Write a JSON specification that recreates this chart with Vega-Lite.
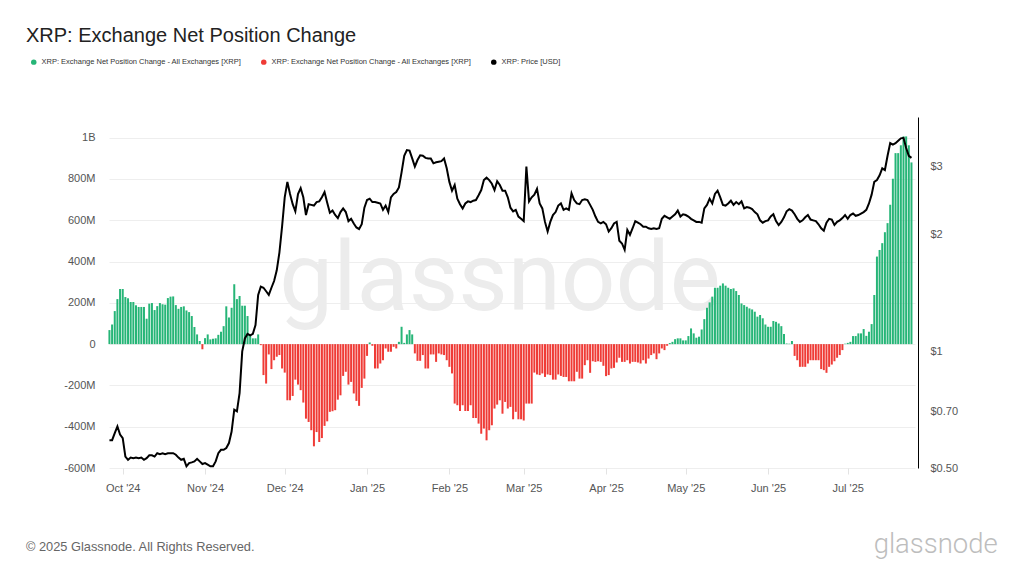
{
"$schema": "https://vega.github.io/schema/vega-lite/v6.json",
"width": 806, "height": 351,
"autosize": {"type": "none"},
"padding": {"left": 109, "top": 117, "right": 109, "bottom": 108},
"background": "white",
"config": {"view": {"stroke": null}, "font": "Liberation Sans", "axis": {"labelFont": "Liberation Sans"}, "legend": {"labelFont": "Liberation Sans"}},
"title": {"text": "XRP: Exchange Net Position Change", "anchor": "start", "frame": "group", "dx": -83, "offset": -4, "baseline": "alphabetic", "fontSize": 20, "fontWeight": "normal", "color": "#222222", "font": "Liberation Sans"},
"datasets": {"d": [
{"date":"2024-09-26","net":68e6,"price":0.59},
{"date":"2024-09-27","net":95e6,"price":0.59},
{"date":"2024-09-28","net":160e6,"price":0.615},
{"date":"2024-09-29","net":218e6,"price":0.64},
{"date":"2024-09-30","net":267e6,"price":0.61},
{"date":"2024-10-01","net":267e6,"price":0.597},
{"date":"2024-10-02","net":228e6,"price":0.535},
{"date":"2024-10-03","net":222e6,"price":0.525},
{"date":"2024-10-04","net":204e6,"price":0.532},
{"date":"2024-10-05","net":204e6,"price":0.53},
{"date":"2024-10-06","net":188e6,"price":0.532},
{"date":"2024-10-07","net":180e6,"price":0.53},
{"date":"2024-10-08","net":180e6,"price":0.532},
{"date":"2024-10-09","net":180e6,"price":0.525},
{"date":"2024-10-10","net":123e6,"price":0.53},
{"date":"2024-10-11","net":196e6,"price":0.539},
{"date":"2024-10-12","net":199e6,"price":0.539},
{"date":"2024-10-13","net":165e6,"price":0.535},
{"date":"2024-10-14","net":184e6,"price":0.546},
{"date":"2024-10-15","net":199e6,"price":0.543},
{"date":"2024-10-16","net":193e6,"price":0.546},
{"date":"2024-10-17","net":191e6,"price":0.543},
{"date":"2024-10-18","net":223e6,"price":0.546},
{"date":"2024-10-19","net":230e6,"price":0.546},
{"date":"2024-10-20","net":231e6,"price":0.546},
{"date":"2024-10-21","net":189e6,"price":0.541},
{"date":"2024-10-22","net":171e6,"price":0.532},
{"date":"2024-10-23","net":180e6,"price":0.525},
{"date":"2024-10-24","net":183e6,"price":0.528},
{"date":"2024-10-25","net":163e6,"price":0.505},
{"date":"2024-10-26","net":155e6,"price":0.515},
{"date":"2024-10-27","net":136e6,"price":0.517},
{"date":"2024-10-28","net":83e6,"price":0.52},
{"date":"2024-10-29","net":47e6,"price":0.528},
{"date":"2024-10-30","net":15e6,"price":0.52},
{"date":"2024-10-31","net":-25e6,"price":0.512},
{"date":"2024-11-01","net":29e6,"price":0.515},
{"date":"2024-11-02","net":47e6,"price":0.51},
{"date":"2024-11-03","net":23e6,"price":0.505},
{"date":"2024-11-04","net":26e6,"price":0.505},
{"date":"2024-11-05","net":28e6,"price":0.52},
{"date":"2024-11-06","net":45e6,"price":0.546},
{"date":"2024-11-07","net":60e6,"price":0.557},
{"date":"2024-11-08","net":87e6,"price":0.557},
{"date":"2024-11-09","net":183e6,"price":0.563},
{"date":"2024-11-10","net":129e6,"price":0.58},
{"date":"2024-11-11","net":176e6,"price":0.621},
{"date":"2024-11-12","net":290e6,"price":0.707},
{"date":"2024-11-13","net":218e6,"price":0.70},
{"date":"2024-11-14","net":233e6,"price":0.78},
{"date":"2024-11-15","net":186e6,"price":1.0},
{"date":"2024-11-16","net":186e6,"price":1.08},
{"date":"2024-11-17","net":136e6,"price":1.11},
{"date":"2024-11-18","net":45e6,"price":1.10},
{"date":"2024-11-19","net":28e6,"price":1.11},
{"date":"2024-11-20","net":28e6,"price":1.17},
{"date":"2024-11-21","net":47e6,"price":1.40},
{"date":"2024-11-22","net":-5e6,"price":1.47},
{"date":"2024-11-23","net":-150e6,"price":1.46},
{"date":"2024-11-24","net":-191e6,"price":1.43},
{"date":"2024-11-25","net":-50e6,"price":1.40},
{"date":"2024-11-26","net":-121e6,"price":1.46},
{"date":"2024-11-27","net":-78e6,"price":1.52},
{"date":"2024-11-28","net":-61e6,"price":1.62},
{"date":"2024-11-29","net":-53e6,"price":1.80},
{"date":"2024-11-30","net":-118e6,"price":2.1},
{"date":"2024-12-01","net":-138e6,"price":2.5},
{"date":"2024-12-02","net":-272e6,"price":2.74},
{"date":"2024-12-03","net":-272e6,"price":2.55},
{"date":"2024-12-04","net":-251e6,"price":2.40},
{"date":"2024-12-05","net":-172e6,"price":2.30},
{"date":"2024-12-06","net":-196e6,"price":2.55},
{"date":"2024-12-07","net":-223e6,"price":2.64},
{"date":"2024-12-08","net":-283e6,"price":2.5},
{"date":"2024-12-09","net":-361e6,"price":2.25},
{"date":"2024-12-10","net":-377e6,"price":2.40},
{"date":"2024-12-11","net":-417e6,"price":2.39},
{"date":"2024-12-12","net":-495e6,"price":2.38},
{"date":"2024-12-13","net":-426e6,"price":2.43},
{"date":"2024-12-14","net":-474e6,"price":2.44},
{"date":"2024-12-15","net":-455e6,"price":2.5},
{"date":"2024-12-16","net":-396e6,"price":2.58},
{"date":"2024-12-17","net":-374e6,"price":2.42},
{"date":"2024-12-18","net":-328e6,"price":2.28},
{"date":"2024-12-19","net":-325e6,"price":2.31},
{"date":"2024-12-20","net":-320e6,"price":2.25},
{"date":"2024-12-21","net":-269e6,"price":2.21},
{"date":"2024-12-22","net":-248e6,"price":2.29},
{"date":"2024-12-23","net":-154e6,"price":2.34},
{"date":"2024-12-24","net":-134e6,"price":2.29},
{"date":"2024-12-25","net":-196e6,"price":2.17},
{"date":"2024-12-26","net":-183e6,"price":2.2},
{"date":"2024-12-27","net":-239e6,"price":2.14},
{"date":"2024-12-28","net":-275e6,"price":2.09},
{"date":"2024-12-29","net":-299e6,"price":2.07},
{"date":"2024-12-30","net":-212e6,"price":2.13},
{"date":"2024-12-31","net":-167e6,"price":2.35},
{"date":"2025-01-01","net":-57e6,"price":2.46},
{"date":"2025-01-02","net":8e6,"price":2.48},
{"date":"2025-01-03","net":-8e6,"price":2.43},
{"date":"2025-01-04","net":-118e6,"price":2.43},
{"date":"2025-01-05","net":-118e6,"price":2.42},
{"date":"2025-01-06","net":-94e6,"price":2.41},
{"date":"2025-01-07","net":-78e6,"price":2.32},
{"date":"2025-01-08","net":-21e6,"price":2.38},
{"date":"2025-01-09","net":-37e6,"price":2.29},
{"date":"2025-01-10","net":-37e6,"price":2.5},
{"date":"2025-01-11","net":-13e6,"price":2.55},
{"date":"2025-01-12","net":-21e6,"price":2.58},
{"date":"2025-01-13","net":11e6,"price":2.65},
{"date":"2025-01-14","net":84e6,"price":2.9},
{"date":"2025-01-15","net":6e6,"price":3.2},
{"date":"2025-01-16","net":47e6,"price":3.31},
{"date":"2025-01-17","net":68e6,"price":3.30},
{"date":"2025-01-18","net":47e6,"price":3.15},
{"date":"2025-01-19","net":-45e6,"price":3.0},
{"date":"2025-01-20","net":-81e6,"price":3.12},
{"date":"2025-01-21","net":-81e6,"price":3.21},
{"date":"2025-01-22","net":-53e6,"price":3.2},
{"date":"2025-01-23","net":-118e6,"price":3.16},
{"date":"2025-01-24","net":-118e6,"price":3.15},
{"date":"2025-01-25","net":-50e6,"price":3.15},
{"date":"2025-01-26","net":-50e6,"price":3.06},
{"date":"2025-01-27","net":-86e6,"price":3.08},
{"date":"2025-01-28","net":-45e6,"price":3.09},
{"date":"2025-01-29","net":-50e6,"price":3.1},
{"date":"2025-01-30","net":-53e6,"price":3.15},
{"date":"2025-01-31","net":-78e6,"price":2.97},
{"date":"2025-02-01","net":-110e6,"price":2.74},
{"date":"2025-02-02","net":-142e6,"price":2.6},
{"date":"2025-02-03","net":-288e6,"price":2.69},
{"date":"2025-02-04","net":-296e6,"price":2.48},
{"date":"2025-02-05","net":-324e6,"price":2.4},
{"date":"2025-02-06","net":-296e6,"price":2.34},
{"date":"2025-02-07","net":-324e6,"price":2.41},
{"date":"2025-02-08","net":-324e6,"price":2.44},
{"date":"2025-02-09","net":-296e6,"price":2.43},
{"date":"2025-02-10","net":-358e6,"price":2.45},
{"date":"2025-02-11","net":-358e6,"price":2.46},
{"date":"2025-02-12","net":-385e6,"price":2.53},
{"date":"2025-02-13","net":-434e6,"price":2.61},
{"date":"2025-02-14","net":-409e6,"price":2.77},
{"date":"2025-02-15","net":-466e6,"price":2.81},
{"date":"2025-02-16","net":-417e6,"price":2.77},
{"date":"2025-02-17","net":-393e6,"price":2.71},
{"date":"2025-02-18","net":-312e6,"price":2.61},
{"date":"2025-02-19","net":-293e6,"price":2.75},
{"date":"2025-02-20","net":-272e6,"price":2.69},
{"date":"2025-02-21","net":-337e6,"price":2.6},
{"date":"2025-02-22","net":-280e6,"price":2.6},
{"date":"2025-02-23","net":-312e6,"price":2.5},
{"date":"2025-02-24","net":-304e6,"price":2.35},
{"date":"2025-02-25","net":-364e6,"price":2.3},
{"date":"2025-02-26","net":-328e6,"price":2.32},
{"date":"2025-02-27","net":-364e6,"price":2.23},
{"date":"2025-02-28","net":-364e6,"price":2.2},
{"date":"2025-03-01","net":-370e6,"price":2.17},
{"date":"2025-03-02","net":-288e6,"price":3.0},
{"date":"2025-03-03","net":-288e6,"price":2.44},
{"date":"2025-03-04","net":-288e6,"price":2.5},
{"date":"2025-03-05","net":-138e6,"price":2.54},
{"date":"2025-03-06","net":-147e6,"price":2.63},
{"date":"2025-03-07","net":-150e6,"price":2.41},
{"date":"2025-03-08","net":-142e6,"price":2.34},
{"date":"2025-03-09","net":-159e6,"price":2.16},
{"date":"2025-03-10","net":-147e6,"price":2.04},
{"date":"2025-03-11","net":-150e6,"price":2.16},
{"date":"2025-03-12","net":-172e6,"price":2.25},
{"date":"2025-03-13","net":-172e6,"price":2.29},
{"date":"2025-03-14","net":-147e6,"price":2.38},
{"date":"2025-03-15","net":-154e6,"price":2.41},
{"date":"2025-03-16","net":-159e6,"price":2.32},
{"date":"2025-03-17","net":-159e6,"price":2.34},
{"date":"2025-03-18","net":-180e6,"price":2.32},
{"date":"2025-03-19","net":-180e6,"price":2.56},
{"date":"2025-03-20","net":-180e6,"price":2.46},
{"date":"2025-03-21","net":-134e6,"price":2.41},
{"date":"2025-03-22","net":-167e6,"price":2.4},
{"date":"2025-03-23","net":-167e6,"price":2.46},
{"date":"2025-03-24","net":-102e6,"price":2.47},
{"date":"2025-03-25","net":-78e6,"price":2.46},
{"date":"2025-03-26","net":-139e6,"price":2.39},
{"date":"2025-03-27","net":-83e6,"price":2.32},
{"date":"2025-03-28","net":-86e6,"price":2.23},
{"date":"2025-03-29","net":-83e6,"price":2.16},
{"date":"2025-03-30","net":-86e6,"price":2.14},
{"date":"2025-03-31","net":-105e6,"price":2.16},
{"date":"2025-04-01","net":-155e6,"price":2.13},
{"date":"2025-04-02","net":-150e6,"price":2.04},
{"date":"2025-04-03","net":-118e6,"price":2.08},
{"date":"2025-04-04","net":-115e6,"price":2.14},
{"date":"2025-04-05","net":-89e6,"price":2.16},
{"date":"2025-04-06","net":-66e6,"price":1.93},
{"date":"2025-04-07","net":-86e6,"price":1.9},
{"date":"2025-04-08","net":-86e6,"price":1.83},
{"date":"2025-04-09","net":-78e6,"price":2.06},
{"date":"2025-04-10","net":-94e6,"price":2.0},
{"date":"2025-04-11","net":-86e6,"price":2.08},
{"date":"2025-04-12","net":-86e6,"price":2.17},
{"date":"2025-04-13","net":-89e6,"price":2.15},
{"date":"2025-04-14","net":-94e6,"price":2.13},
{"date":"2025-04-15","net":-78e6,"price":2.1},
{"date":"2025-04-16","net":-94e6,"price":2.1},
{"date":"2025-04-17","net":-70e6,"price":2.08},
{"date":"2025-04-18","net":-53e6,"price":2.07},
{"date":"2025-04-19","net":-45e6,"price":2.08},
{"date":"2025-04-20","net":-73e6,"price":2.07},
{"date":"2025-04-21","net":-45e6,"price":2.08},
{"date":"2025-04-22","net":-21e6,"price":2.2},
{"date":"2025-04-23","net":-29e6,"price":2.24},
{"date":"2025-04-24","net":-8e6,"price":2.22},
{"date":"2025-04-25","net":5e6,"price":2.2},
{"date":"2025-04-26","net":11e6,"price":2.23},
{"date":"2025-04-27","net":24e6,"price":2.26},
{"date":"2025-04-28","net":28e6,"price":2.31},
{"date":"2025-04-29","net":28e6,"price":2.23},
{"date":"2025-04-30","net":18e6,"price":2.26},
{"date":"2025-05-01","net":18e6,"price":2.25},
{"date":"2025-05-02","net":39e6,"price":2.23},
{"date":"2025-05-03","net":76e6,"price":2.2},
{"date":"2025-05-04","net":52e6,"price":2.18},
{"date":"2025-05-05","net":31e6,"price":2.16},
{"date":"2025-05-06","net":36e6,"price":2.16},
{"date":"2025-05-07","net":71e6,"price":2.15},
{"date":"2025-05-08","net":121e6,"price":2.34},
{"date":"2025-05-09","net":176e6,"price":2.39},
{"date":"2025-05-10","net":202e6,"price":2.48},
{"date":"2025-05-11","net":230e6,"price":2.41},
{"date":"2025-05-12","net":273e6,"price":2.55},
{"date":"2025-05-13","net":273e6,"price":2.6},
{"date":"2025-05-14","net":283e6,"price":2.5},
{"date":"2025-05-15","net":294e6,"price":2.39},
{"date":"2025-05-16","net":283e6,"price":2.38},
{"date":"2025-05-17","net":273e6,"price":2.41},
{"date":"2025-05-18","net":267e6,"price":2.45},
{"date":"2025-05-19","net":270e6,"price":2.39},
{"date":"2025-05-20","net":257e6,"price":2.43},
{"date":"2025-05-21","net":238e6,"price":2.4},
{"date":"2025-05-22","net":197e6,"price":2.44},
{"date":"2025-05-23","net":189e6,"price":2.34},
{"date":"2025-05-24","net":181e6,"price":2.36},
{"date":"2025-05-25","net":173e6,"price":2.35},
{"date":"2025-05-26","net":168e6,"price":2.33},
{"date":"2025-05-27","net":157e6,"price":2.29},
{"date":"2025-05-28","net":133e6,"price":2.26},
{"date":"2025-05-29","net":141e6,"price":2.18},
{"date":"2025-05-30","net":125e6,"price":2.15},
{"date":"2025-05-31","net":95e6,"price":2.17},
{"date":"2025-06-01","net":84e6,"price":2.18},
{"date":"2025-06-02","net":84e6,"price":2.23},
{"date":"2025-06-03","net":112e6,"price":2.26},
{"date":"2025-06-04","net":108e6,"price":2.17},
{"date":"2025-06-05","net":100e6,"price":2.12},
{"date":"2025-06-06","net":87e6,"price":2.16},
{"date":"2025-06-07","net":49e6,"price":2.22},
{"date":"2025-06-08","net":3e6,"price":2.3},
{"date":"2025-06-09","net":2e6,"price":2.33},
{"date":"2025-06-10","net":15e6,"price":2.31},
{"date":"2025-06-11","net":-57e6,"price":2.26},
{"date":"2025-06-12","net":-78e6,"price":2.2},
{"date":"2025-06-13","net":-110e6,"price":2.16},
{"date":"2025-06-14","net":-110e6,"price":2.18},
{"date":"2025-06-15","net":-110e6,"price":2.22},
{"date":"2025-06-16","net":-94e6,"price":2.25},
{"date":"2025-06-17","net":-78e6,"price":2.19},
{"date":"2025-06-18","net":-78e6,"price":2.18},
{"date":"2025-06-19","net":-78e6,"price":2.17},
{"date":"2025-06-20","net":-78e6,"price":2.13},
{"date":"2025-06-21","net":-121e6,"price":2.08},
{"date":"2025-06-22","net":-126e6,"price":2.05},
{"date":"2025-06-23","net":-139e6,"price":2.15},
{"date":"2025-06-24","net":-110e6,"price":2.2},
{"date":"2025-06-25","net":-99e6,"price":2.19},
{"date":"2025-06-26","net":-83e6,"price":2.12},
{"date":"2025-06-27","net":-66e6,"price":2.16},
{"date":"2025-06-28","net":-53e6,"price":2.18},
{"date":"2025-06-29","net":-29e6,"price":2.21},
{"date":"2025-06-30","net":2e6,"price":2.25},
{"date":"2025-07-01","net":6e6,"price":2.2},
{"date":"2025-07-02","net":11e6,"price":2.25},
{"date":"2025-07-03","net":39e6,"price":2.27},
{"date":"2025-07-04","net":39e6,"price":2.24},
{"date":"2025-07-05","net":52e6,"price":2.25},
{"date":"2025-07-06","net":52e6,"price":2.27},
{"date":"2025-07-07","net":73e6,"price":2.29},
{"date":"2025-07-08","net":40e6,"price":2.32},
{"date":"2025-07-09","net":60e6,"price":2.41},
{"date":"2025-07-10","net":97e6,"price":2.54},
{"date":"2025-07-11","net":238e6,"price":2.74},
{"date":"2025-07-12","net":424e6,"price":2.77},
{"date":"2025-07-13","net":456e6,"price":2.85},
{"date":"2025-07-14","net":489e6,"price":2.97},
{"date":"2025-07-15","net":542e6,"price":2.94},
{"date":"2025-07-16","net":586e6,"price":3.2},
{"date":"2025-07-17","net":675e6,"price":3.45},
{"date":"2025-07-18","net":801e6,"price":3.42},
{"date":"2025-07-19","net":925e6,"price":3.45},
{"date":"2025-07-20","net":925e6,"price":3.5},
{"date":"2025-07-21","net":963e6,"price":3.55},
{"date":"2025-07-22","net":1006e6,"price":3.56},
{"date":"2025-07-23","net":1006e6,"price":3.35},
{"date":"2025-07-24","net":963e6,"price":3.2},
{"date":"2025-07-25","net":880e6,"price":3.16}
]},
"data": {"name": "d"},
"layer": [
{"layer": [
  {"data": {"values": [{"label": "glassnode"}]},
   "mark": {"type": "text", "fontSize": 96, "font": "Roboto", "fontWeight": 400, "color": "#ececec", "align": "center", "baseline": "alphabetic"},
   "encoding": {"text": {"field": "label"},
     "x": {"datum": {"year": 2025, "month": 2, "date": 20, "hours": 1, "utc": true}, "type": "temporal"},
     "y": {"datum": 164700000, "type": "quantitative"}}},
  {"data": {"values": [{"label": "© 2025 Glassnode. All Rights Reserved."}]},
   "mark": {"type": "text", "fontSize": 12.8, "font": "Liberation Sans", "color": "#666666", "align": "left", "baseline": "alphabetic"},
   "encoding": {"text": {"field": "label"},
     "x": {"datum": {"year": 2024, "month": 8, "date": 25, "hours": 14, "utc": true}, "type": "temporal"},
     "y": {"datum": -1000000000, "type": "quantitative"}}},
  {"data": {"values": [{"label": "glassnode"}]},
   "mark": {"type": "text", "fontSize": 27.5, "font": "Roboto", "fontWeight": 300, "color": "#bdbdbd", "align": "right", "baseline": "alphabetic"},
   "encoding": {"text": {"field": "label"},
     "x": {"datum": {"year": 2025, "month": 8, "date": 26, "hours": 12, "utc": true}, "type": "temporal"},
     "y": {"datum": -1010000000, "type": "quantitative"}}},
  {"transform": [{"calculate": "datum.net >= 0 ? 'pos' : 'neg'", "as": "sign"}],
   "mark": {"type": "bar", "width": 2},
   "encoding": {
     "x": {"field": "date", "type": "temporal",
       "scale": {"type": "utc", "padding": 0, "domain": [{"year": 2024, "month": 9, "date": 25, "hours": 20, "utc": true}, {"year": 2025, "month": 7, "date": 26, "hours": 8, "utc": true}]},
       "axis": {"title": null, "tickCount": {"interval": "month", "step": 1}, "labelExpr": "utcFormat(datum.value, \"%b '%y\")", "grid": false, "domain": false, "ticks": true, "tickColor": "#e3e3e3", "tickSize": 6, "labelColor": "#555555", "labelFontSize": 11, "labelPadding": 8, "labelFlush": false}},
     "y": {"field": "net", "type": "quantitative", "stack": null,
       "scale": {"domain": [-600000000, 1100000000], "nice": false},
       "axis": {"orient": "left", "title": null, "values": [-600000000, -400000000, -200000000, 0, 200000000, 400000000, 600000000, 800000000, 1000000000], "labelExpr": "datum.value == 0 ? '0' : replace(replace(format(datum.value, '~s'), 'G', 'B'), '−', '-')", "grid": true, "gridColor": "#eeeeee", "domain": false, "ticks": false, "labelPadding": 14, "labelColor": "#555555", "labelFontSize": 11}},
     "color": {"field": "sign", "type": "nominal",
       "scale": {"domain": ["pos", "neg", "price"], "range": ["#26b577", "#ef3b36", "#000000"]},
       "legend": {"orient": "none", "legendX": -79, "legendY": -59, "direction": "horizontal", "title": null, "symbolType": "circle", "symbolSize": 30, "symbolStrokeWidth": 0, "labelFontSize": 7.5, "labelColor": "#333333", "labelLimit": 0, "columnPadding": 18,
         "labelExpr": "datum.value == 'price' ? 'XRP: Price [USD]' : 'XRP: Exchange Net Position Change - All Exchanges [XRP]'"}}
   }}
]},
{"mark": {"type": "line", "strokeWidth": 2},
 "encoding": {
   "x": {"field": "date", "type": "temporal"},
   "y": {"field": "price", "type": "quantitative",
     "scale": {"type": "log", "domain": [0.5, 4.03], "nice": false},
     "axis": {"orient": "right", "title": null, "values": [0.5, 0.7, 1, 2, 3], "labelExpr": "datum.value < 1 ? '$' + format(datum.value, '.2f') : '$' + format(datum.value, 'd')", "grid": false, "domain": true, "domainColor": "#000000", "domainWidth": 1, "ticks": false, "labelPadding": 12, "offset": 3, "labelColor": "#555555", "labelFontSize": 11}},
   "color": {"datum": "price", "legend": null}
 }}
],
"resolve": {"scale": {"y": "independent"}}
}
